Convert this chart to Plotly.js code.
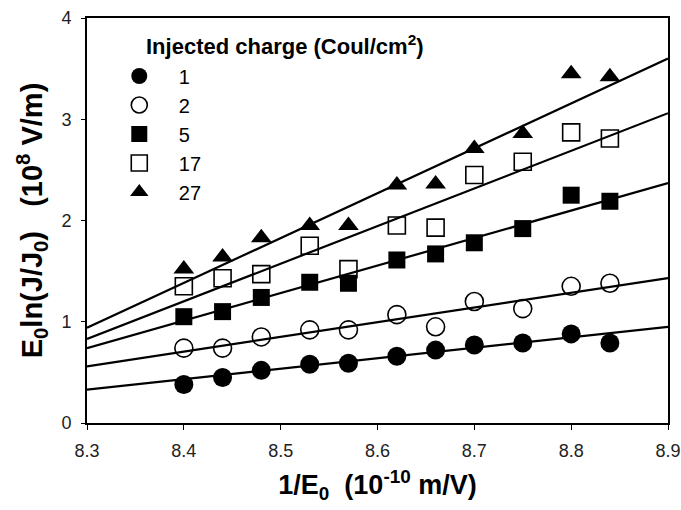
<!DOCTYPE html>
<html>
<head>
<meta charset="utf-8">
<script src="https://cdn.plot.ly/plotly-3.0.1.min.js"></script>
<style>html,body{margin:0;padding:0;background:#fff;}#chart{width:681px;height:510px;}</style>
</head>
<body>
<div id="chart"></div>
<script>
// x positions (1/E0, 10^-10 m/V)
const xVals = [8.40, 8.44, 8.48, 8.53, 8.57, 8.62, 8.66, 8.70, 8.75, 8.80, 8.84];
// series labels (injected charge, Coul/cm^2)
const seriesNames = ['1', '2', '5', '17', '27'];
// E0 ln(J/J0) values, 10^8 V/m
const q1  = [0.38, 0.45, 0.52, 0.58, 0.59, 0.66, 0.72, 0.77, 0.79, 0.88, 0.79];
const q2  = [0.74, 0.74, 0.85, 0.92, 0.92, 1.07, 0.95, 1.20, 1.13, 1.35, 1.38];
const q5  = [1.05, 1.10, 1.24, 1.39, 1.38, 1.61, 1.67, 1.78, 1.92, 2.25, 2.19];
const q17 = [1.35, 1.43, 1.47, 1.75, 1.52, 1.95, 1.93, 2.45, 2.58, 2.87, 2.81];
const q27 = [1.52, 1.64, 1.83, 1.95, 1.95, 2.35, 2.36, 2.71, 2.86, 3.45, 3.42];
// fitted straight lines: endpoints read at x = 8.3 and x = 8.9
const fitX = [8.3, 8.9];
const fitStart = [0.33, 0.56, 0.74, 0.83, 0.94];
const fitEnd   = [0.95, 1.43, 2.37, 3.06, 3.60];
// axis ticks
const xTicks = [8.3, 8.4, 8.5, 8.6, 8.7, 8.8, 8.9];
const xTickText = ['8.3', '8.4', '8.5', '8.6', '8.7', '8.8', '8.9'];
const yTicks = [0, 1, 2, 3, 4];

const seriesY = [q1, q2, q5, q17, q27];
const symbols = ['circle', 'circle-open', 'square', 'square-open', 'triangle-up'];
const sizes = [19, 18, 17, 17, 18];

const traces = [];
for (let i = 0; i < 5; i++) {
  traces.push({
    x: fitX, y: [fitStart[i], fitEnd[i]],
    mode: 'lines', line: {color: '#000', width: 2.2},
    showlegend: false, hoverinfo: 'skip'
  });
}
for (let i = 0; i < 5; i++) {
  traces.push({
    x: xVals, y: seriesY[i], name: seriesNames[i],
    mode: 'markers', legendgroup: 'g' + i,
    marker: {symbol: symbols[i], size: sizes[i], color: '#000',
             line: {color: '#000', width: symbols[i].endsWith('open') ? 1.6 : 0}}
  });
}

const fontFam = 'Arial, "Liberation Sans", sans-serif';
const layout = {
  width: 681, height: 510,
  margin: {l: 87, r: 13, t: 18, b: 87},
  paper_bgcolor: '#fff', plot_bgcolor: '#fff',
  font: {family: fontFam, color: '#000'},
  xaxis: {
    range: [8.3, 8.9], tickvals: xTicks, ticktext: xTickText,
    showgrid: false, zeroline: false, showline: true, mirror: true,
    linecolor: '#000', linewidth: 2, ticks: 'outside', ticklen: 5, tickcolor: '#000',
    ticklabelstandoff: 5,
    tickfont: {size: 18, color: '#222'},
    title: {text: '<b>1/E<sub>0</sub>  (10<sup>-10</sup> m/V)</b>', font: {size: 27}, standoff: 16}
  },
  yaxis: {
    range: [0, 4], tickvals: yTicks,
    showgrid: false, zeroline: false, showline: true, mirror: true,
    linecolor: '#000', linewidth: 2, ticks: 'outside', ticklen: 4, tickcolor: '#000',
    ticklabelstandoff: 6,
    tickfont: {size: 18, color: '#222'},
    title: {text: '<b>E<sub>0</sub>ln(J/J<sub>0</sub>)&nbsp;&nbsp;&nbsp;(10<sup>8</sup> V/m)</b>', font: {size: 29}, standoff: 10}
  },
  legend: {
    x: 0.022, y: 0.905, xanchor: 'left', yanchor: 'top',
    bgcolor: 'rgba(0,0,0,0)', borderwidth: 0,
    font: {size: 20, family: fontFam},
    tracegroupgap: 0,
    itemwidth: 69
  },
  annotations: [{
    xref: 'paper', yref: 'paper', x: (144 - 87) / 581, y: (423 - 45) / 405,
    xanchor: 'left', yanchor: 'middle', showarrow: false,
    text: '<b>Injected charge (Coul/cm<sup>2</sup>)</b>', font: {size: 22, family: fontFam}
  }],
  showlegend: true
};
Plotly.newPlot('chart', traces, layout, {displayModeBar: false, staticPlot: true});
</script>
</body>
</html>
